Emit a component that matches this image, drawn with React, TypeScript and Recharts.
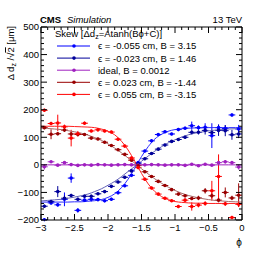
import React from "react";
import { ComposedChart, Scatter, Line, XAxis, YAxis, ErrorBar, Legend } from "recharts";

const font = "'Liberation Sans', Arial, sans-serif";

// bin centres and fit sampling points
const phi = [
  -2.95, -2.85, -2.75, -2.65, -2.55, -2.45, -2.35, -2.25, -2.15, -2.05,
  -1.95, -1.85, -1.75, -1.65, -1.55, -1.45, -1.35, -1.25, -1.15, -1.05,
  -0.95, -0.85, -0.75, -0.65, -0.55, -0.45, -0.35, -0.25, -0.15, -0.05,
];
const fitPhi = [
  -3, -2.9, -2.8, -2.7, -2.6, -2.5, -2.4, -2.3, -2.2, -2.1, -2, -1.9, -1.8, -1.7, -1.6,
  -1.5, -1.4, -1.3, -1.2, -1.1, -1, -0.9, -0.8, -0.7, -0.6, -0.5, -0.4, -0.3, -0.2, -0.1, 0,
];

const bluePts = [-199, -138, -145, -125, -48, -165, -128, -125, -126, -130, -125, -101, -76, -38, 8, 50, 87, 110, 120, 112, 128, 133, 142, 135, 136, 106, 135, 132, 181, 130];
const blueErr = [6, 6, 6, 25, 17, 8, 6, 8, 6, 6, 6, 6, 5, 5, 5, 5, 5, 5, 5, 5, 6, 6, 15, 8, 15, 45, 12, 12, 6, 15];
const blueFit = [-135, -135, -135, -135, -135, -134, -134, -132, -130, -126, -118, -105, -83, -52, -12, 30, 66, 94, 111, 122, 128, 131, 133, 134, 134, 135, 135, 135, 135, 135, 135];

const navyPts = [-150, -133, -97, -121, -111, -125, -114, -114, -105, -97, -78, -62, -45, -22, 4, 22, 41, 57, 72, 85, 92, 100, 118, 118, 125, 117, 125, 124, 109, 112];
const navyErr = [6, 6, 20, 10, 6, 6, 6, 6, 5, 5, 5, 5, 5, 5, 5, 5, 5, 5, 5, 5, 5, 6, 8, 8, 15, 10, 20, 20, 18, 15];
const navyFit = [-131, -129, -127, -125, -121, -117, -112, -106, -97, -87, -74, -60, -43, -24, -6, 13, 32, 50, 66, 80, 91, 101, 109, 115, 119, 123, 126, 128, 130, 131, 132];

const idealPts = [-7, 11, -1, 8, 1, -2, 0, -1, 1, 0, -1, 0, 1, 0, -1, 0, 1, 0, -1, 0, 0, -2, 2, -3, 2, -1, 8, 11, 8, -8];
const idealErr = [10, 4, 4, 4, 4, 4, 3, 3, 3, 3, 3, 3, 3, 3, 3, 3, 3, 3, 3, 3, 3, 3, 3, 3, 4, 4, 6, 6, 6, 9];
const idealFit = [0, 0, 0, 0, 0, 0, 0, 0, 0, 0, 0, 0, 0, 0, 0, 0, 0, 0, 0, 0, 0, 0, 0, 0, 0, 0, 0, 0, 0, 0, 0];

const darkRedPts = [135, 111, 113, 126, 112, 110, 110, 97, 94, 82, 70, 55, 38, 17, -3, -25, -42, -60, -75, -90, -106, -112, -122, -120, -94, -112, -128, -100, -120, -110];
const darkRedErr = [6, 18, 6, 6, 8, 6, 5, 5, 5, 5, 5, 5, 5, 5, 5, 5, 5, 5, 5, 5, 5, 6, 6, 8, 10, 10, 8, 18, 8, 43];
const darkRedFit = [134, 132, 130, 128, 124, 120, 115, 108, 99, 89, 76, 61, 44, 25, 6, -14, -33, -51, -67, -81, -93, -103, -111, -117, -122, -126, -129, -131, -133, -134, -135];

const redPts = [198, 150, 152, 138, 97, 113, 151, 123, 127, 123, 119, 93, 68, 25, -10, -52, -84, -106, -121, -130, -151, -128, -151, -146, -140, -94, -42, -141, -191, -143];
const redErr = [6, 6, 30, 8, 30, 10, 6, 5, 5, 5, 5, 5, 5, 5, 5, 5, 5, 5, 5, 5, 6, 6, 15, 8, 8, 36, 80, 8, 6, 10];
const redFit = [140, 140, 140, 140, 140, 139, 138, 137, 135, 130, 122, 109, 86, 54, 13, -31, -69, -97, -115, -126, -133, -136, -138, -139, -139, -140, -140, -140, -140, -140, -140];

const names = [
  "\u03f5 = -0.055 cm, B = 3.15",
  "\u03f5 = -0.023 cm, B = 1.46",
  "ideal, B = 0.0012",
  "\u03f5 = 0.023 cm, B = -1.44",
  "\u03f5 = 0.055 cm, B = -3.15",
];

const xMajor = [-3, -2.5, -2, -1.5, -1, -0.5, 0];
const xTicks = fitPhi;
const yMajor = [-200, -100, 0, 100, 200, 300, 400, 500];
const yTicks = Array.from({ length: 36 }, (_, i) => -200 + 20 * i);

const toPts = (ys: number[], es: number[]) => phi.map((x, i) => ({ x, y: ys[i], ex: 0.05, ey: es[i] }));
const toFit = (ys: number[]) => fitPhi.map((x, i) => ({ x, y: ys[i] }));

const series = [
  { name: names[0], color: "#0000ff", fitColor: "#2b2bff", pts: toPts(bluePts, blueErr), fit: toFit(blueFit) },
  { name: names[1], color: "#000099", fitColor: "#6262b8", pts: toPts(navyPts, navyErr), fit: toFit(navyFit) },
  { name: names[2], color: "#a020c0", fitColor: "#a020c0", pts: toPts(idealPts, idealErr), fit: toFit(idealFit) },
  { name: names[3], color: "#990000", fitColor: "#a86a6a", pts: toPts(darkRedPts, darkRedErr), fit: toFit(darkRedFit) },
  { name: names[4], color: "#ff0000", fitColor: "#ff2020", pts: toPts(redPts, redErr), fit: toFit(redFit) },
];

const fmt = (v: number) => (v < 0 ? "\u2212" + String(-v) : String(v));

const BottomTick = (p: any) => {
  const v = p.payload.value;
  const major = xMajor.includes(v);
  return (
    <g>
      <line x1={p.x} x2={p.x} y1={p.y} y2={p.y - (major ? 6 : 3)} stroke="#000" />
      {major && (
        <text x={p.x} y={p.y + 11} textAnchor="middle" fontSize={9.5} fontFamily={font} fill="#000">
          {fmt(v)}
        </text>
      )}
    </g>
  );
};

const TopTick = (p: any) => {
  const major = xMajor.includes(p.payload.value);
  return <line x1={p.x} x2={p.x} y1={p.y} y2={p.y + (major ? 6 : 3)} stroke="#000" />;
};

const LeftTick = (p: any) => {
  const v = p.payload.value;
  const major = yMajor.includes(v);
  return (
    <g>
      <line x1={p.x} x2={p.x + (major ? 6 : 3)} y1={p.y} y2={p.y} stroke="#000" />
      {major && (
        <text x={p.x - 2} y={p.y + 3.4} textAnchor="end" fontSize={9.5} fontFamily={font} fill="#000">
          {fmt(v)}
        </text>
      )}
    </g>
  );
};

const RightTick = (p: any) => {
  const major = yMajor.includes(p.payload.value);
  return <line x1={p.x} x2={p.x - (major ? 6 : 3)} y1={p.y} y2={p.y} stroke="#000" />;
};

const Header = () => (
  <g fontFamily={font} fontSize={9.5} fill="#000">
    <text x={40} y={22.5} fontWeight="bold">CMS</text>
    <text x={67} y={22.5} fontStyle="italic">Simulation</text>
    <text x={242} y={22.5} textAnchor="end">13 TeV</text>
  </g>
);

const PhiLabel = () => (
  <text x={239} y={246} textAnchor="middle" fontSize={10} fontFamily={font} fill="#000">
    {"\u03d5"}
  </text>
);

const YLabel = () => (
  <text
    x={14}
    y={26}
    transform="rotate(-90, 14, 26)"
    textAnchor="end"
    fontSize={9.5}
    fontFamily={font}
    fill="#000"
  >
    {"\u0394 d"}
    <tspan dy={2} fontSize={7}>z</tspan>
    <tspan dy={-2}>{" /\u221a"}</tspan>
    <tspan textDecoration="overline">2</tspan>
    <tspan>{" [\u03bcm]"}</tspan>
  </text>
);

const LegendBox = () => (
  <svg width={175} height={78} style={{ display: "block", overflow: "visible" }}>
    <text x={3} y={10.5} fontSize={9.5} fontFamily={font} fill="#000">
      {"Skew [\u0394d"}
      <tspan dy={2} fontSize={7}>z</tspan>
      <tspan dy={-2}>{"=Atanh(B\u03d5+C)]"}</tspan>
    </text>
    {series.map((s, i) => {
      const cy = 20 + i * 12.1;
      return (
        <g key={s.name}>
          <line x1={5} x2={38} y1={cy} y2={cy} stroke={s.color} strokeWidth={1} />
          <circle cx={22} cy={cy} r={1.8} fill={s.color} />
          <text x={46} y={cy + 3.4} fontSize={9.5} fontFamily={font} fill="#000">
            {s.name}
          </text>
        </g>
      );
    })}
  </svg>
);

const Dot = (color: string) => (p: any) => <circle cx={p.cx} cy={p.cy} r={1.8} fill={color} />;

export default function App() {
  return (
    <div style={{ position: "absolute", left: 0, top: 0, background: "#fff" }}>
      <ComposedChart width={266} height={259} margin={{ top: 26, right: 23, bottom: 38, left: 40 }}>
        <XAxis
          xAxisId={0}
          dataKey="x"
          type="number"
          domain={[-3, 0]}
          allowDataOverflow
          ticks={xTicks}
          interval={0}
          height={1}
          tickSize={0}
          tickMargin={0}
          tickLine={false}
          tick={<BottomTick />}
          axisLine={{ stroke: "#000" }}
          label={<PhiLabel />}
        />
        <XAxis
          xAxisId="top"
          orientation="top"
          dataKey="x"
          type="number"
          domain={[-3, 0]}
          allowDataOverflow
          ticks={xTicks}
          interval={0}
          height={1}
          tickSize={0}
          tickMargin={0}
          tickLine={false}
          tick={<TopTick />}
          axisLine={{ stroke: "#000" }}
          label={<Header />}
        />
        <YAxis
          yAxisId={0}
          dataKey="y"
          type="number"
          domain={[-200, 500]}
          allowDataOverflow
          ticks={yTicks}
          interval={0}
          width={1}
          tickSize={0}
          tickMargin={0}
          tickLine={false}
          tick={<LeftTick />}
          axisLine={{ stroke: "#000" }}
          label={<YLabel />}
        />
        <YAxis
          yAxisId="right"
          orientation="right"
          type="number"
          domain={[-200, 500]}
          allowDataOverflow
          ticks={yTicks}
          interval={0}
          width={1}
          tickSize={0}
          tickMargin={0}
          tickLine={false}
          tick={<RightTick />}
          axisLine={{ stroke: "#000" }}
        />
        {series.map((s) => (
          <Scatter key={"p" + s.name} data={s.pts} shape={Dot(s.color)} isAnimationActive={false}>
            <ErrorBar dataKey="ex" direction="x" width={0} stroke={s.color} strokeWidth={1} isAnimationActive={false} />
            <ErrorBar dataKey="ey" direction="y" width={0} stroke={s.color} strokeWidth={1} isAnimationActive={false} />
          </Scatter>
        ))}
        {series.map((s) => (
          <Line
            key={"f" + s.name}
            data={s.fit}
            dataKey="y"
            type="monotone"
            stroke={s.fitColor}
            strokeWidth={1}
            dot={false}
            activeDot={false}
            isAnimationActive={false}
          />
        ))}
        <Legend
          layout="vertical"
          align="center"
          verticalAlign="middle"
          wrapperStyle={{ position: "absolute", top: 26, left: 52, width: 175, height: 78 }}
          content={() => <LegendBox />}
        />
      </ComposedChart>
    </div>
  );
}
